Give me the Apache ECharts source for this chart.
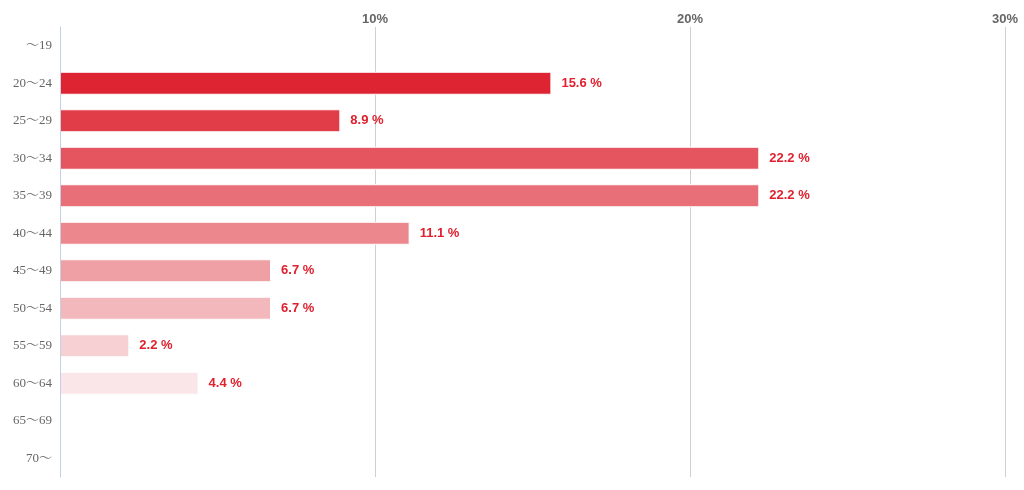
<!DOCTYPE html>
<html>
<head>
<meta charset="utf-8">
<script src="https://cdn.jsdelivr.net/npm/echarts@6/dist/echarts.min.js"></script>
<style>html,body{margin:0;padding:0;background:#fff}#c{width:1024px;height:490px}</style>
</head>
<body>
<div id="c"></div>
<script>
const categories = ['～19','20～24','25～29','30～34','35～39','40～44','45～49','50～54','55～59','60～64','65～69','70～'];
const values = [0, 15.6, 8.9, 22.2, 22.2, 11.1, 6.7, 6.7, 2.2, 4.4, 0, 0];
const xTicks = [0, 10, 20, 30];
const palette = ['#DE2433','#DE2433','#E13D49','#E55560','#E86E77','#EC878E','#EFA0A5','#F3B8BC','#F6D0D3','#FAE6E8','#FAE6E8','#FAE6E8'];

const chart = echarts.init(document.getElementById('c'));
chart.setOption({
  animation: false,
  grid: { left: 60, right: 19, top: 27, bottom: 13, containLabel: false },
  xAxis: {
    type: 'value', position: 'top',
    min: xTicks[0], max: xTicks[xTicks.length - 1], interval: 10,
    axisLine: { show: false }, axisTick: { show: false },
    axisLabel: {
      formatter: v => v === 0 ? '' : v + '%',
      color: '#666', fontWeight: 'bold', fontSize: 13,
      fontFamily: 'Liberation Sans, Arial, sans-serif', margin: 1
    },
    splitLine: { lineStyle: { color: '#cfcfcf', width: 1 } }
  },
  yAxis: {
    type: 'category', inverse: true, data: categories, z: 5,
    axisLine: { lineStyle: { color: '#c4d0e6' } },
    axisTick: { length: 5, lineStyle: { color: '#c4d0e6' } },
    axisLabel: { color: '#666', fontSize: 13, fontFamily: '"Liberation Serif", "Noto Serif CJK JP", "Noto Sans CJK JP", serif', margin: 8 }
  },
  series: [{
    type: 'bar',
    barWidth: 23,
    data: values.map((v, i) => ({ value: v, itemStyle: { color: palette[i], borderColor: '#fff', borderWidth: 1 } })),
    label: {
      show: true, position: 'right', distance: 10,
      formatter: p => p.value > 0 ? p.value.toFixed(1) + ' %' : '',
      color: '#E0202E', fontWeight: 'bold', fontSize: 13,
      fontFamily: 'Liberation Sans, Arial, sans-serif'
    }
  }]
});
</script>
</body>
</html>
